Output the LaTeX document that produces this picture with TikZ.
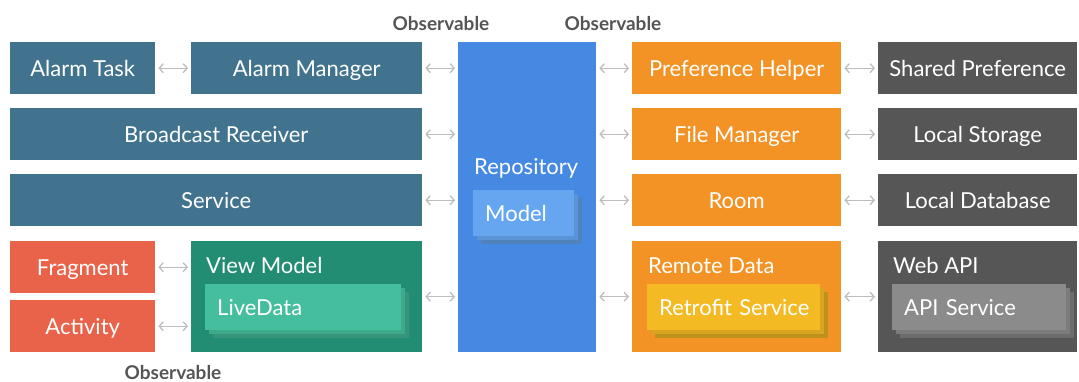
\documentclass[tikz,border=0pt]{standalone}
\usepackage{fontspec}
\setmainfont{Lato}
\usetikzlibrary{arrows.meta}
\definecolor{steel}{HTML}{41738F}
\definecolor{redo}{HTML}{E9634A}
\definecolor{greenvm}{HTML}{228D73}
\definecolor{greenld}{HTML}{45BE9E}
\definecolor{repob}{HTML}{4589E2}
\definecolor{modelb}{HTML}{66A6F1}
\definecolor{orng}{HTML}{F39325}
\definecolor{retro}{HTML}{F4BA24}
\definecolor{darkg}{HTML}{565656}
\definecolor{apig}{HTML}{8B8B8B}
\definecolor{arrgray}{HTML}{BDBDBD}
\definecolor{obsgray}{HTML}{555555}
\newcommand\mkblk[7]{\node[blk, fill=#6, minimum width={#4-#2}, minimum height={#5-#3}] (#1) at (#2,#3) {#7};}
\newcommand\mkstack[7]{%
  \fill[#6!78!black] (#2+8,#3+8) rectangle (#4+8,#5+8);
  \fill[#6!89!black] (#2+4,#3+4) rectangle (#4+4,#5+4);
  \node[blk, fill=#6, minimum width={#4-#2}, minimum height={#5-#3}, text width={#4-#2-24}, inner xsep=12pt, align=left] (#1) at (#2,#3) {\mbox{#7}\hfill};}
\begin{document}
\begin{tikzpicture}[x=1pt,y=-1pt,
  blk/.style={rectangle, inner sep=0pt, anchor=north west, text=white,
    font=\fontsize{22}{26}\selectfont, text height=16pt, text depth=0pt},
  lbl/.style={anchor=base west, inner sep=0pt, text=white, font=\fontsize{22}{26}\selectfont},
  arr/.style={draw=arrgray, line width=1.3pt,
    {Straight Barb[length=4pt,width=9pt]}-{Straight Barb[length=4pt,width=9pt]},
    shorten <=3pt, shorten >=3pt},
  obs/.style={anchor=base, inner sep=0pt, text=obsgray, font=\fontsize{19}{21}\selectfont\bfseries}]
\useasboundingbox[fill=white] (0,0) rectangle (1079,381);

% left column
\mkblk{atask}{10}{42}{155}{94}{steel}{Alarm Task}
\mkblk{amgr}{191}{42}{422}{94}{steel}{Alarm Manager}
\mkblk{brec}{10}{108}{422}{160}{steel}{Broadcast Receiver}
\mkblk{serv}{10}{174}{422}{226}{steel}{Service}
\mkblk{frag}{10}{241}{155}{293}{redo}{Fragment}
\mkblk{act}{10}{300}{155}{352}{redo}{Activity}
\mkblk{vm}{191}{241}{422}{352}{greenvm}{}
\node[lbl] (vmlbl) at (206,273) {View Model};
\mkstack{ld}{205}{284}{401}{330}{greenld}{LiveData}

% repository
\mkblk{repo}{458}{42}{596}{352}{repob}{}
\node[lbl] (repolbl) at (474,174) {Repository};
\mkstack{model}{473}{190}{574}{236}{modelb}{Model}

% orange column
\mkblk{pref}{632}{42}{841}{94}{orng}{Preference Helper}
\mkblk{fmgr}{632}{108}{841}{160}{orng}{File Manager}
\mkblk{room}{632}{174}{841}{226}{orng}{Room}
\mkblk{remote}{632}{241}{841}{352}{orng}{}
\node[lbl] (remlbl) at (648,273) {Remote Data};
\mkstack{retro}{647}{284}{820}{330}{retro}{Retrofit Service}

% dark column
\mkblk{shpref}{878}{42}{1077}{94}{darkg}{Shared Preference}
\mkblk{lstor}{878}{108}{1077}{160}{darkg}{Local Storage}
\mkblk{ldb}{878}{174}{1077}{226}{darkg}{Local Database}
\mkblk{web}{878}{241}{1077}{352}{darkg}{}
\node[lbl] (weblbl) at (893,273) {Web API};
\mkstack{api}{892}{284}{1066}{330}{apig}{API Service}

% observable labels
\node[obs] (obs1) at (441,30) {Observable};
\node[obs] (obs2) at (613,30) {Observable};
\node[obs] (obs3) at (173,379) {Observable};

% connectors
\draw[arr] (atask) -- (amgr);
\draw[arr] (frag.east) -- (frag.east -| vm.west);
\draw[arr] (act.east) -- (act.east -| vm.west);
\draw[arr] (amgr.east) -- (amgr.east -| repo.west);
\draw[arr] (brec.east) -- (brec.east -| repo.west);
\draw[arr] (serv.east) -- (serv.east -| repo.west);
\draw[arr] (vm.east) -- (vm.east -| repo.west);
\draw[arr] (pref.west -| repo.east) -- (pref.west);
\draw[arr] (fmgr.west -| repo.east) -- (fmgr.west);
\draw[arr] (room.west -| repo.east) -- (room.west);
\draw[arr] (remote.west -| repo.east) -- (remote.west);
\draw[arr] (pref) -- (shpref);
\draw[arr] (fmgr) -- (lstor);
\draw[arr] (room) -- (ldb);
\draw[arr] (remote) -- (web);
\end{tikzpicture}
\end{document}
